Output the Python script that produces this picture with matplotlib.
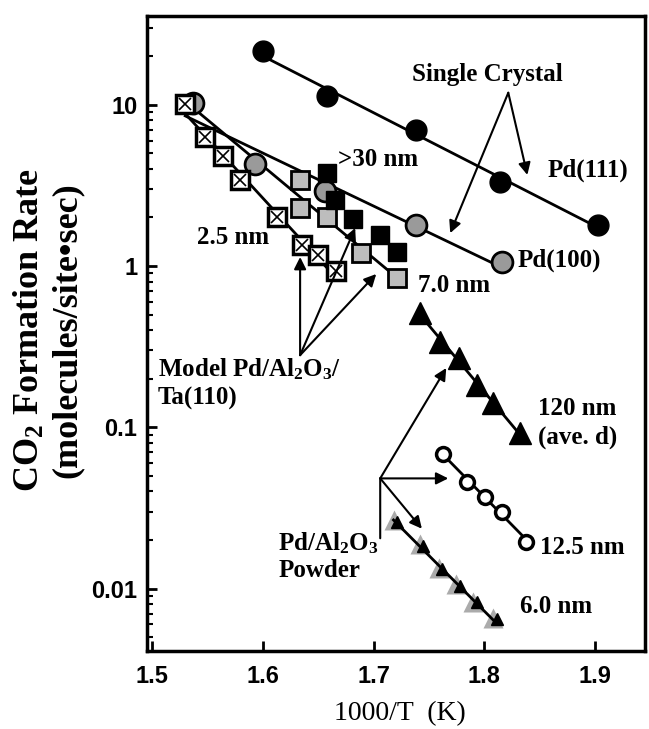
import numpy as np
import matplotlib
matplotlib.use('Agg')
import matplotlib.pyplot as plt

plt.rcParams['mathtext.fontset'] = 'custom'
plt.rcParams['mathtext.rm'] = 'Liberation Serif:bold'
plt.rcParams['mathtext.default'] = 'rm'

# ---- data (x = 1000/T, y = rate) ----
pd111_x = [1.600, 1.658, 1.738, 1.814, 1.903]
pd111_y = [21.5, 11.3, 7.0, 3.3, 1.8]
pd100_x = [1.537, 1.593, 1.656, 1.738, 1.816]
pd100_y = [10.2, 4.3, 2.9, 1.8, 1.06]
nm25_x = [1.530, 1.548, 1.564, 1.579, 1.613, 1.635, 1.650, 1.666]
nm25_y = [10.1, 6.3, 4.8, 3.4, 2.0, 1.35, 1.17, 0.93]
nm70_x = [1.634, 1.634, 1.658, 1.689, 1.721]
nm70_y = [3.4, 2.3, 2.0, 1.2, 0.84]
nm30_x = [1.658, 1.665, 1.681, 1.706, 1.721]
nm30_y = [3.75, 2.57, 1.97, 1.56, 1.23]
nm120_x = [1.742, 1.760, 1.777, 1.793, 1.808, 1.832]
nm120_y = [0.51, 0.34, 0.267, 0.183, 0.141, 0.092]
nm125_x = [1.763, 1.784, 1.801, 1.816, 1.838]
nm125_y = [0.068, 0.046, 0.037, 0.030, 0.0195]
nm60_x = [1.718, 1.742, 1.759, 1.774, 1.790, 1.808]
nm60_y = [0.0265, 0.019, 0.0135, 0.0107, 0.0083, 0.0066]
nm60b_x = [1.721, 1.745, 1.762, 1.778, 1.793, 1.811]
nm60b_y = [0.0258, 0.0184, 0.0133, 0.0104, 0.0082, 0.0065]

xticks = [1.5, 1.6, 1.7, 1.8, 1.9]
xtick_labels = ['1.5', '1.6', '1.7', '1.8', '1.9']
yticks = [0.01, 0.1, 1, 10]
ytick_labels = ['0.01', '0.1', '1', '10']

W, H = 649, 729
fig = plt.figure(figsize=(W / 100, H / 100), dpi=100)
L, R, T, B = 147, 645, 16, 651
ax = fig.add_axes([L / W, 1 - B / H, (R - L) / W, (B - T) / H])
ax.set_yscale('log')
ax.set_xlim(1.4955, 1.945)
ax.set_ylim(0.0041, 35.5)


def fit(x, y, xstart=None):
    x = np.asarray(x); y = np.asarray(y)
    p = np.polyfit(x, np.log10(y), 1)
    x0 = x.min() if xstart is None else xstart
    xs = np.array([x0, x.max()])
    return xs, 10 ** np.polyval(p, xs)


LW = 2.0
common_start = nm25_x[0]
for xs, ys, x0 in [(pd111_x, pd111_y, None),
                   (pd100_x, pd100_y, common_start),
                   (nm25_x, nm25_y, None),
                   (nm120_x, nm120_y, None),
                   (nm125_x, nm125_y, None),
                   (nm60_x, nm60_y, None)]:
    fx, fy = fit(xs, ys, x0)
    ax.plot(fx, fy, color='black', lw=LW, zorder=2)
# 7.0 nm line runs from the common starting point
fx, fy = fit([nm25_x[0]] + nm70_x, [nm25_y[0]] + nm70_y)
ax.plot(fx, fy, color='black', lw=LW, zorder=2)

ax.plot(pd111_x, pd111_y, ls='none', marker='o', ms=15, mfc='black', mec='black', zorder=3)
ax.plot(pd100_x, pd100_y, ls='none', marker='o', ms=15, mfc='#9a9a9a', mec='black', mew=2, zorder=3)
ax.plot(nm25_x, nm25_y, ls='none', marker='s', ms=13, mfc='white', mec='black', mew=2.5, zorder=3)
ax.plot(nm25_x, nm25_y, ls='none', marker='x', ms=9, mec='black', mew=1.2, zorder=4)
ax.plot(nm70_x, nm70_y, ls='none', marker='s', ms=13, mfc='#bdbdbd', mec='black', mew=2, zorder=3)
ax.plot(nm30_x, nm30_y, ls='none', marker='s', ms=13, mfc='black', mec='black', zorder=3)
ax.plot(nm120_x, nm120_y, ls='none', marker='^', ms=16, mfc='black', mec='black', zorder=3)
ax.plot(nm125_x, nm125_y, ls='none', marker='o', ms=10, mfc='white', mec='black', mew=2.5, zorder=3)
ax.plot(nm60_x, nm60_y, ls='none', marker='^', ms=15, mfc='#ababab', mec='none', zorder=1)
ax.plot(nm60b_x, nm60b_y, ls='none', marker='^', ms=8, mfc='black', mec='black', zorder=3)

# axes styling
for s in ax.spines.values():
    s.set_linewidth(2.5)
ax.set_xticks(xticks)
ax.set_xticklabels(xtick_labels)
ax.set_yticks(yticks)
ax.set_yticklabels(ytick_labels)
ax.yaxis.set_minor_formatter(matplotlib.ticker.NullFormatter())
ax.tick_params(which='both', direction='in', top=False, right=False)
ax.tick_params(which='major', length=7, width=2)
ax.tick_params(which='minor', length=4, width=1.5)
ax.tick_params(axis='x', pad=10)
ax.tick_params(axis='y', pad=7)
for lab in ax.get_xticklabels() + ax.get_yticklabels():
    lab.set_fontfamily('Liberation Sans')
    lab.set_fontweight('bold')
    lab.set_fontsize(17)

tf = dict(family='Liberation Serif', weight='bold', fontsize=18, color='black')
ax.text(1.803, 15.4, 'Single Crystal', ha='center', va='center', **tf)
ax.text(1.857, 3.95, 'Pd(111)', ha='left', va='center', **tf)
ax.text(1.8297, 1.09, 'Pd(100)', ha='left', va='center', **tf)
ax.text(1.6676, 4.6, '>30 nm', ha='left', va='center', **tf)
ax.text(1.541, 1.5, '2.5 nm', ha='left', va='center', **tf)
ax.text(1.7402, 0.76, '7.0 nm', ha='left', va='center', **tf)
ax.text(1.5054, 0.23, 'Model Pd/Al$_2$O$_3$/', ha='left', va='center', **tf)
ax.text(1.5054, 0.15, 'Ta(110)', ha='left', va='center', **tf)
ax.text(1.8487, 0.131, '120 nm', ha='left', va='center', **tf)
ax.text(1.8487, 0.0867, '(ave. d)', ha='left', va='center', **tf)
ax.text(1.8505, 0.0180, '12.5 nm', ha='left', va='center', **tf)
ax.text(1.8324, 0.0077, '6.0 nm', ha='left', va='center', **tf)
ax.text(1.6138, 0.0190, 'Pd/Al$_2$O$_3$', ha='left', va='center', **tf)
ax.text(1.6138, 0.0130, 'Powder', ha='left', va='center', **tf)

ap = dict(arrowstyle='-|>', lw=1.5, color='black', mutation_scale=18, shrinkA=0, shrinkB=0)
for tgt in [(1.8388, 3.67), (1.7692, 1.60)]:
    ax.annotate('', xy=tgt, xytext=(1.8216, 11.87), arrowprops=ap)
for tgt in [(1.6337, 1.137), (1.6834, 1.72), (1.7024, 0.892)]:
    ax.annotate('', xy=tgt, xytext=(1.6337, 0.28), arrowprops=ap)
for tgt in [(1.7656, 0.233), (1.7674, 0.0482), (1.7436, 0.0235)]:
    ax.annotate('', xy=tgt, xytext=(1.706, 0.0482), arrowprops=ap)
ax.annotate('', xy=(1.706, 0.0205), xytext=(1.706, 0.0482),
            arrowprops=dict(arrowstyle='-', lw=1.5, color='black', shrinkA=0, shrinkB=0))

fig.text(30 / W, 1 - 330 / H, 'CO$_2$ Formation Rate', rotation=90, ha='center', va='center',
         family='Liberation Serif', weight='bold', fontsize=26)
fig.text(67 / W, 1 - 330 / H, '(molecules/site\u2022sec)', rotation=90, ha='center', va='center',
         family=['Liberation Serif', 'DejaVu Serif'], weight='bold', fontsize=26)
fig.text(400 / W, 1 - 714 / H, '1000/T  (K)', ha='center', va='center',
         family='Liberation Serif', fontsize=20)

fig.savefig('out.png', dpi=100)
